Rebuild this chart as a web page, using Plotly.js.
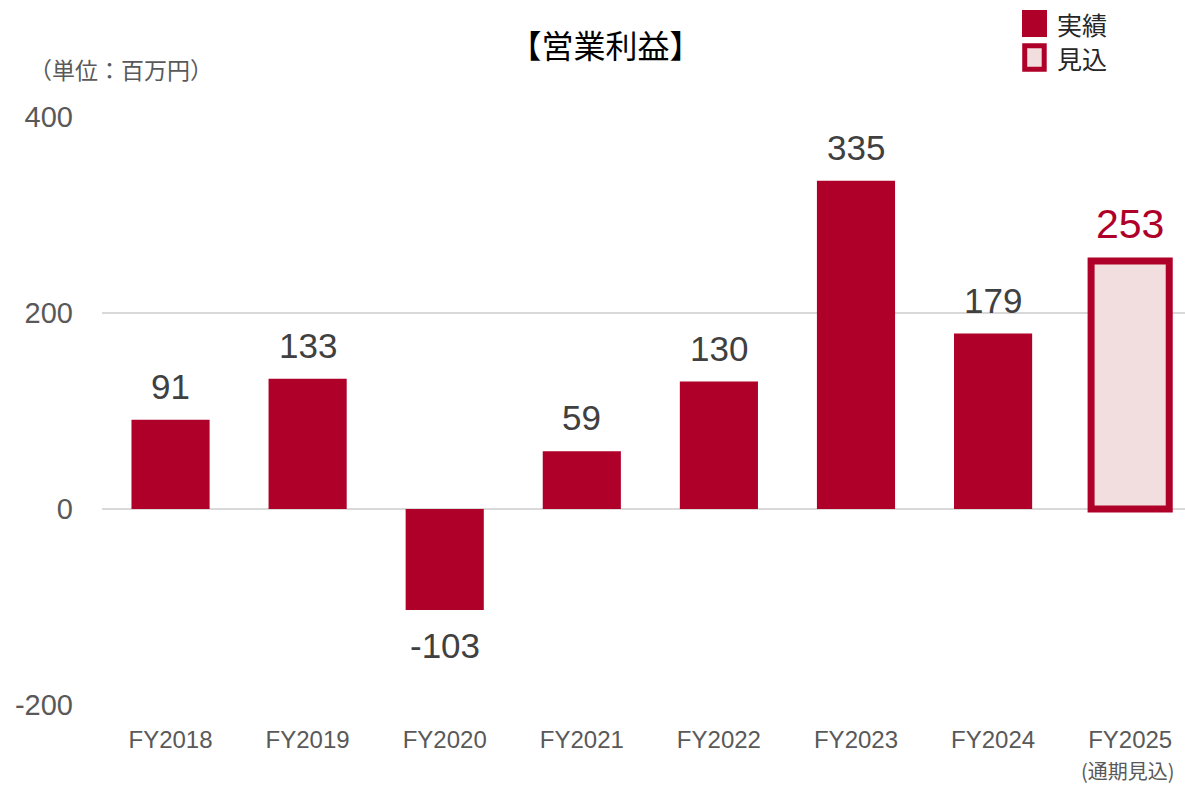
<!DOCTYPE html>
<html>
<head>
<meta charset="utf-8">
<script src="https://cdn.plot.ly/plotly-3.0.1.min.js"></script>
<style>
	html, body {margin: 0; padding: 0; background: white;}
	#chart {width: 1185px; height: 788px;}
</style>
</head>
<body>
<div id="chart"></div>
<script>
// 営業利益（百万円）
const years = ["FY2018", "FY2019", "FY2020", "FY2021", "FY2022", "FY2023", "FY2024", "FY2025"];
const actualYears = ["FY2018", "FY2019", "FY2020", "FY2021", "FY2022", "FY2023", "FY2024"];
const actualValues = [91, 133, -103, 59, 130, 335, 179];
const forecastYears = ["FY2025"];
const forecastValues = [253];
const yTicks = [-200, 0, 200, 400];
const yTickText = ["-200", "0", "200", "400"];

const RED = "#AF0029";
const PINK = "#F2DEDE";
const FONT = "Liberation Sans, Arial, Noto Sans CJK JP, sans-serif";
const JP_FONT = "Noto Sans CJK JP, sans-serif";

function drawChart() {
	const traces = [
		{
			x: actualYears,
			y: actualValues,
			type: "bar",
			marker: {color: RED},
			width: 0.57,
			hoverinfo: "skip"
		},
		{
			x: forecastYears,
			y: forecastValues,
			type: "bar",
			marker: {color: PINK, line: {color: RED, width: 7}},
			width: 0.57,
			hoverinfo: "skip"
		}
	];

	// 値ラベル
	const annotations = actualYears.map((yr, i) => {
		const v = actualValues[i];
		return {
			x: yr, y: v, xref: "x", yref: "y",
			text: String(v),
			showarrow: false,
			yanchor: v >= 0 ? "bottom" : "top",
			yshift: v >= 0 ? 12 : -14,
			font: {family: FONT, size: 35, color: "#404040"}
		};
	});
	forecastYears.forEach((yr, i) => {
		annotations.push({
			x: yr, y: forecastValues[i], xref: "x", yref: "y",
			text: String(forecastValues[i]),
			showarrow: false,
			yanchor: "bottom",
			yshift: 12,
			font: {family: FONT, size: 41, color: RED}
		});
	});
	// 単位・凡例・注記
	annotations.push(
		{
			xref: "paper", yref: "paper", x: -0.069, y: 1.082, xanchor: "left", yanchor: "middle",
			text: "（単位：百万円）", showarrow: false,
			font: {family: JP_FONT, size: 23, color: "#595959"}
		},
		{
			xref: "paper", yref: "paper", x: 0.88, y: 1.158, xanchor: "left", yanchor: "middle",
			text: "実績", showarrow: false,
			font: {family: JP_FONT, size: 25, color: "#262626"}
		},
		{
			xref: "paper", yref: "paper", x: 0.88, y: 1.100, xanchor: "left", yanchor: "middle",
			text: "見込", showarrow: false,
			font: {family: JP_FONT, size: 25, color: "#262626"}
		},
		{
			xref: "paper", yref: "paper", x: 0.993, y: -0.111, xanchor: "right", yanchor: "middle",
			text: "(通期見込)", showarrow: false,
			font: {family: JP_FONT, size: 20, color: "#595959"}
		}
	);

	const layout = {
		title: {
			text: "【営業利益】",
			font: {family: JP_FONT, size: 32, color: "#000000"},
			x: 0.511, xanchor: "center", y: 0.94, yanchor: "middle"
		},
		width: 1185,
		height: 788,
		margin: {l: 102, r: 0, t: 117, b: 83},
		paper_bgcolor: "white",
		plot_bgcolor: "white",
		showlegend: false,
		barmode: "overlay",
		xaxis: {
			type: "category",
			categoryorder: "array",
			categoryarray: years,
			range: [-0.5, 7.4],
			showgrid: false,
			zeroline: false,
			showline: false,
			ticks: "",
			ticklabelstandoff: 18,
			tickfont: {family: FONT, size: 24, color: "#595959"}
		},
		yaxis: {
			range: [-200, 400],
			tickvals: yTicks,
			ticktext: yTickText,
			showgrid: true,
			gridcolor: "#D9D9D9",
			gridwidth: 2,
			zeroline: false,
			showline: false,
			ticks: "",
			ticklabelstandoff: 28,
			tickfont: {family: FONT, size: 29, color: "#595959"}
		},
		shapes: [
			// 凡例マーカー
			{type: "rect", xref: "paper", yref: "paper", x0: 0.8495, x1: 0.8726, y0: 1.136, y1: 1.182,
				fillcolor: RED, line: {width: 0}},
			{type: "rect", xref: "paper", yref: "paper", x0: 0.852, x1: 0.870, y0: 1.081, y1: 1.121,
				fillcolor: PINK, line: {color: RED, width: 5}}
		],
		annotations: annotations
	};

	Plotly.newPlot("chart", traces, layout, {displayModeBar: false, staticPlot: true});
}

window.addEventListener("DOMContentLoaded", drawChart);
</script>
</body>
</html>
